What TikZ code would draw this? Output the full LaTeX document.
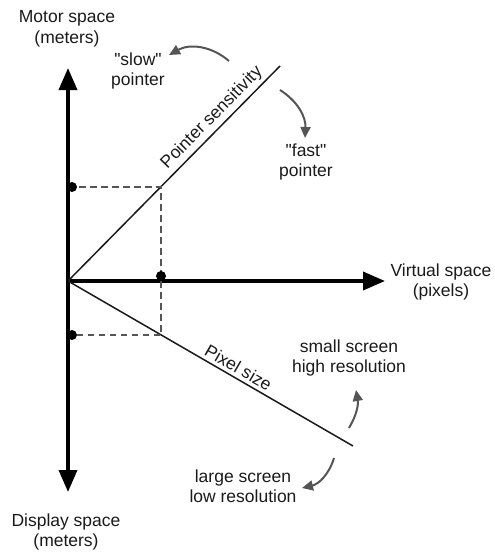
\documentclass[tikz,border=0pt]{standalone}
\usepackage{fontspec}
\setmainfont{Liberation Sans}[Ligatures=TeXOff]
\usetikzlibrary{arrows.meta}

\definecolor{ink}{HTML}{1A1A1A}
\definecolor{note}{HTML}{555555}

\begin{document}
\begin{tikzpicture}[x=1pt, y=-1pt, every node/.style={align=center, text=ink, font=\fontsize{17.5}{20.5}\selectfont}]
\tikzstyle{axis} = [line width=3.6pt, >={Triangle[length=22pt,width=18pt]}]
\tikzstyle{slope} = [line width=1.5pt, ink]
\tikzstyle{guide} = [line width=1.5pt, note, dash pattern=on 6.5pt off 4.5pt]
\tikzstyle{hint} = [line width=2pt, note, -{Triangle[length=11pt,width=10pt]}]
\tikzstyle{dot} = [circle, fill=black, inner sep=0pt, minimum size=10pt]

\useasboundingbox (0,0) rectangle (495,555);

% axes
\coordinate (origin) at (68,281);
\coordinate (top) at (68,68);
\coordinate (bottom) at (68,492);
\coordinate (right) at (385,281);
\draw[axis, <->] (bottom) -- (top);
\draw[axis, ->] (origin) -- (right);

% transfer functions
\coordinate (sensend) at (280,66);
\coordinate (pixend) at (353,446);
\draw[slope] (origin) -- node[sloped, above, pos=0.72] (sens) {Pointer sensitivity} (sensend);
\draw[slope] (origin) -- node[sloped, above, pos=0.58] (pix) {Pixel size} (pixend);

% reading a value
\coordinate (hiY) at (68,187);
\coordinate (hiA) at (161,187);
\coordinate (loA) at (161,335);
\coordinate (loY) at (68,335);
\draw[guide] (hiY) -- (hiA) -- (loA) -- (loY);
\node[dot] (dothi) at (72,187) {};
\node[dot] (dotlo) at (72,335) {};
\node[dot] (dotx) at (161,276) {};

% labels
\node (motor) at (67,29) {Motor space\\(meters)};
\node (display) at (66,532) {Display space\\(meters)};
\node (virtual) at (441,282) {Virtual space\\(pixels)};
\node (slow) at (138,71) {"slow"\\pointer};
\node (fast) at (306,162) {"fast"\\pointer};
\node (small) at (349,358) {small screen\\high resolution};
\node (large) at (243,486) {large screen\\low resolution};

% hints
\coordinate (slowfrom) at (229,61);
\coordinate (slowto) at (169,55);
\coordinate (fastfrom) at (280,90);
\coordinate (fastto) at (305,138);
\coordinate (smallfrom) at (349,428);
\coordinate (smallto) at (356,390);
\coordinate (largefrom) at (334,458);
\coordinate (largeto) at (302,488);
\draw[hint] (slowfrom) to[bend right=35] (slowto);
\draw[hint] (fastfrom) to[bend left=30] (fastto);
\draw[hint] (smallfrom) to[bend right=20] (smallto);
\draw[hint] (largefrom) to[bend left=30] (largeto);

\end{tikzpicture}
\end{document}
